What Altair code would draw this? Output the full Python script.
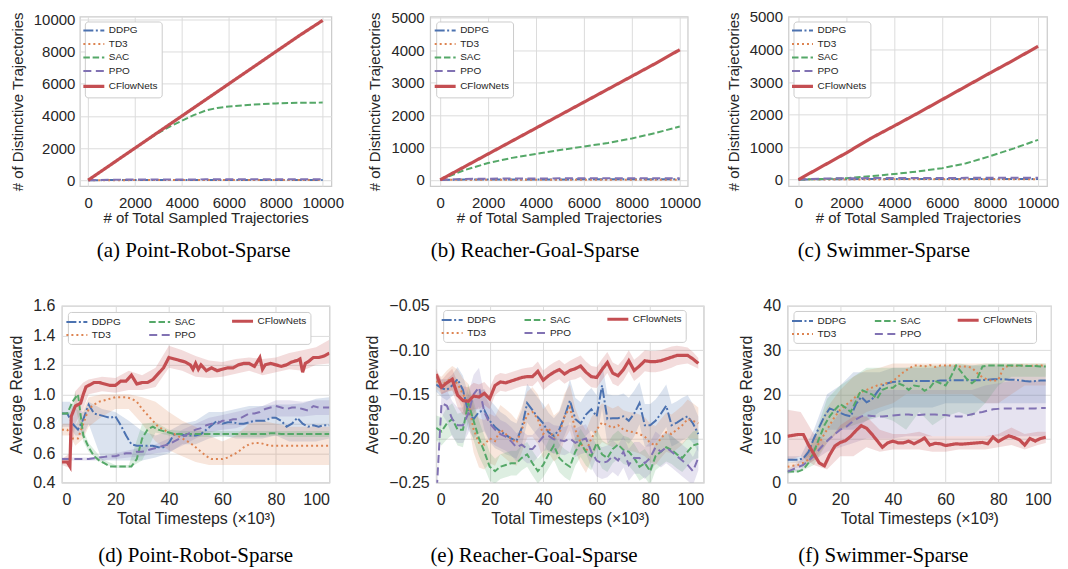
import altair as alt
import pandas as pd

METHODS = ["DDPG", "TD3", "SAC", "PPO", "CFlowNets"]
COLORS = {"DDPG": "#4C72B0", "TD3": "#DD8452", "SAC": "#55A868", "PPO": "#8172B3", "CFlowNets": "#C44E52"}
DASH = {"DDPG": [10, 2.5, 2, 2.5], "TD3": [2, 3], "SAC": [6.5, 2.8], "PPO": [8, 4.5], "CFlowNets": [1, 0]}

# ---------------- top row: distinctive trajectories ----------------
TOP_X = [0, 1000, 2000, 3000, 4000, 5000, 6000, 7000, 8000, 9000, 10000]
A_CF = [0, 1000, 2000, 3000, 4000, 5000, 6000, 7000, 8000, 9000, 9950]
A_DDPG = [0, 5, 8, 10, 10, 12, 12, 14, 14, 15, 15]
A_TD3 = [0, 2, 3, 3, 4, 4, 4, 5, 5, 5, 5]
A_PPO = [0, 30, 40, 45, 48, 50, 52, 53, 55, 55, 56]
A_SAC_X = [0, 1000, 2000, 2500, 3000, 3500, 4000, 4500, 5000, 5500, 6000, 7000, 8000, 9000, 10000]
A_SAC = [0, 1000, 2000, 2500, 2950, 3350, 3700, 4050, 4330, 4500, 4590, 4700, 4780, 4820, 4830]

B_CF = [0, 400, 800, 1200, 1600, 2000, 2400, 2800, 3200, 3600, 4020]
B_SAC = [0, 300, 520, 680, 800, 920, 1030, 1140, 1280, 1450, 1650]
B_DDPG = [0, 8, 10, 12, 14, 15, 16, 17, 18, 19, 20]
B_TD3 = [0, 3, 4, 5, 5, 6, 6, 6, 7, 7, 7]
B_PPO = [0, 30, 38, 42, 45, 47, 49, 50, 51, 52, 53]

C_CF = [0, 410, 820, 1260, 1650, 2050, 2460, 2870, 3280, 3680, 4100]
C_SAC = [0, 15, 40, 100, 170, 250, 350, 500, 720, 960, 1220]
C_DDPG = [0, 10, 12, 14, 15, 16, 17, 18, 19, 20, 20]
C_TD3 = [0, 3, 4, 4, 5, 5, 6, 6, 6, 7, 7]
C_PPO = [0, 32, 40, 44, 46, 48, 50, 51, 52, 53, 54]

# ---------------- (d) Point-Robot-Sparse ----------------
D_X = [0, 2, 4, 6, 8, 10, 12, 14, 16, 18, 20, 22, 24, 26, 28, 30, 32, 34, 36, 38, 40, 42, 44, 46, 48, 50,
       52, 54, 56, 58, 60, 62, 64, 66, 68, 70, 72, 74, 76, 78, 80, 82, 84, 86, 88, 90, 92, 94, 96, 98, 100]
D_DDPG = [0.87, 0.87, 0.80, 0.76, 0.83, 0.93, 0.87, 0.86, 0.85, 0.84, 0.85, 0.79, 0.72, 0.66, 0.65, 0.65, 0.65,
          0.65, 0.64, 0.64, 0.67, 0.73, 0.73, 0.72, 0.72, 0.72, 0.73, 0.76, 0.79, 0.82, 0.80, 0.81, 0.81, 0.80,
          0.80, 0.81, 0.82, 0.82, 0.82, 0.84, 0.84, 0.82, 0.78, 0.80, 0.84, 0.80, 0.78, 0.79, 0.78, 0.79, 0.79]
D_TD3 = [0.76, 0.76, 0.70, 0.70, 0.80, 0.90, 0.93, 0.95, 0.96, 0.97, 0.98, 0.98, 0.98, 0.97, 0.95, 0.90, 0.86,
         0.82, 0.78, 0.76, 0.74, 0.73, 0.71, 0.69, 0.67, 0.64, 0.61, 0.58, 0.56, 0.56, 0.56, 0.57, 0.59, 0.61,
         0.64, 0.66, 0.67, 0.67, 0.66, 0.65, 0.65, 0.65, 0.65, 0.65, 0.65, 0.65, 0.65, 0.65, 0.65, 0.65, 0.65]
D_SAC = [0.87, 0.87, 0.95, 1.00, 0.72, 0.64, 0.58, 0.55, 0.53, 0.51, 0.51, 0.51, 0.51, 0.51, 0.56, 0.70, 0.76,
         0.78, 0.76, 0.75, 0.74, 0.73, 0.73, 0.73, 0.73, 0.73, 0.73, 0.73, 0.73, 0.73, 0.73, 0.73, 0.73, 0.73,
         0.73, 0.73, 0.73, 0.73, 0.73, 0.735, 0.735, 0.73, 0.73, 0.73, 0.73, 0.73, 0.73, 0.73, 0.73, 0.73, 0.73]
D_PPO = [0.56, 0.56, 0.56, 0.56, 0.56, 0.56, 0.565, 0.57, 0.575, 0.58, 0.58, 0.59, 0.60, 0.60, 0.61, 0.61, 0.62,
         0.63, 0.64, 0.65, 0.66, 0.68, 0.70, 0.72, 0.74, 0.76, 0.77, 0.79, 0.80, 0.80, 0.82, 0.82, 0.83, 0.83,
         0.85, 0.87, 0.87, 0.88, 0.90, 0.91, 0.92, 0.91, 0.90, 0.91, 0.91, 0.90, 0.89, 0.92, 0.91, 0.91, 0.91]
D_CF_X = [0, 2, 3, 3.5, 5, 7, 8, 9, 10, 12, 14, 16, 18, 20, 22, 24, 26, 28, 30, 32, 34, 36, 38, 40, 42, 44, 46,
          48, 49, 50, 51, 52, 54, 56, 58, 60, 62, 64, 66, 68, 70, 72, 73, 74, 75, 76, 78, 80, 82, 84, 86, 88,
          89, 90, 91, 92, 94, 96, 98, 100]
D_CF = [0.54, 0.54, 0.51, 0.85, 0.92, 0.94, 1.00, 1.05, 1.06, 1.08, 1.08, 1.07, 1.06, 1.06, 1.09, 1.09, 1.13,
        1.07, 1.08, 1.08, 1.10, 1.14, 1.18, 1.25, 1.24, 1.23, 1.22, 1.20, 1.17, 1.21, 1.17, 1.20, 1.16, 1.18,
        1.16, 1.17, 1.18, 1.18, 1.20, 1.21, 1.21, 1.19, 1.22, 1.25, 1.17, 1.20, 1.21, 1.20, 1.19, 1.20, 1.22,
        1.23, 1.24, 1.15, 1.21, 1.22, 1.25, 1.25, 1.26, 1.28]
D_BX = [0, 3, 5, 8, 10, 15, 20, 25, 30, 35, 40, 45, 50, 55, 60, 65, 70, 75, 80, 85, 90, 95, 100]
D_CF_LO = [0.52, 0.50, 0.80, 0.90, 1.00, 1.02, 1.01, 1.03, 1.03, 1.05, 1.18, 1.16, 1.12, 1.11, 1.12, 1.14, 1.16,
           1.13, 1.15, 1.17, 1.16, 1.20, 1.21]
D_CF_HI = [0.56, 0.60, 1.02, 1.08, 1.10, 1.12, 1.11, 1.16, 1.13, 1.18, 1.33, 1.30, 1.26, 1.23, 1.22, 1.24, 1.25,
           1.24, 1.25, 1.28, 1.30, 1.32, 1.37]
D_DDPG_LO = [0.78, 0.78, 0.72, 0.72, 0.80, 0.55, 0.55, 0.55, 0.55, 0.57, 0.60, 0.66, 0.66, 0.70, 0.72, 0.70, 0.70,
             0.70, 0.72, 0.68, 0.68, 0.68, 0.70]
D_DDPG_HI = [0.95, 0.95, 0.90, 0.88, 0.95, 0.90, 0.88, 0.82, 0.75, 0.72, 0.75, 0.80, 0.82, 0.88, 0.88, 0.90, 0.92,
             0.92, 0.93, 0.93, 0.94, 0.97, 0.98]
D_TD3_LO = [0.72, 0.72, 0.65, 0.70, 0.78, 0.85, 0.90, 0.90, 0.80, 0.68, 0.62, 0.58, 0.54, 0.52, 0.52, 0.52, 0.52,
            0.52, 0.52, 0.52, 0.52, 0.52, 0.52]
D_TD3_HI = [0.80, 0.80, 0.78, 0.90, 0.98, 1.00, 1.00, 1.00, 0.98, 0.95, 0.88, 0.82, 0.78, 0.72, 0.68, 0.72, 0.80,
            0.82, 0.80, 0.78, 0.78, 0.78, 0.78]
D_SAC_LO = [0.86, 0.86, 0.92, 0.68, 0.61, 0.53, 0.50, 0.50, 0.55, 0.74, 0.72, 0.71, 0.71, 0.71, 0.71, 0.71, 0.71,
            0.71, 0.72, 0.71, 0.71, 0.71, 0.71]
D_SAC_HI = [0.88, 0.88, 1.02, 0.76, 0.67, 0.56, 0.52, 0.52, 0.80, 0.81, 0.76, 0.75, 0.75, 0.75, 0.75, 0.75, 0.75,
            0.75, 0.75, 0.75, 0.75, 0.75, 0.75]
D_PPO_LO = [0.55, 0.55, 0.55, 0.55, 0.55, 0.55, 0.56, 0.57, 0.58, 0.60, 0.61, 0.65, 0.70, 0.74, 0.76, 0.77, 0.80,
            0.82, 0.85, 0.85, 0.85, 0.86, 0.86]
D_PPO_HI = [0.57, 0.57, 0.57, 0.57, 0.57, 0.58, 0.60, 0.62, 0.64, 0.66, 0.70, 0.76, 0.80, 0.84, 0.86, 0.88, 0.90,
            0.92, 0.96, 0.96, 0.95, 0.96, 0.96]

# ---------------- (e) Reacher-Goal-Sparse ----------------
E_X = [0, 2, 4, 6, 8, 10, 12, 14, 16, 18, 20, 22, 24, 26, 28, 30, 32, 34, 36, 38, 40, 42, 44, 46, 48, 50,
       52, 54, 56, 58, 60, 62, 64, 66, 68, 70, 72, 74, 76, 78, 80, 82, 84, 86, 88, 90, 92, 94, 96, 98]
E_CF = [-0.127, -0.142, -0.137, -0.133, -0.151, -0.157, -0.158, -0.152, -0.153, -0.149,
        -0.155, -0.140, -0.136, -0.137, -0.135, -0.133, -0.131, -0.130, -0.130, -0.124,
        -0.134, -0.129, -0.125, -0.122, -0.127, -0.123, -0.121, -0.118, -0.125, -0.130,
        -0.131, -0.122, -0.114, -0.126, -0.129, -0.122, -0.112, -0.123, -0.118, -0.112,
        -0.113, -0.113, -0.112, -0.110, -0.108, -0.106, -0.106, -0.106, -0.110, -0.115]
E_DDPG = [-0.139, -0.143, -0.145, -0.140, -0.133, -0.145, -0.170, -0.178, -0.170, -0.168,
          -0.180, -0.187, -0.192, -0.196, -0.200, -0.203, -0.188, -0.160, -0.168, -0.176,
          -0.183, -0.193, -0.197, -0.190, -0.175, -0.157, -0.178, -0.183, -0.173, -0.167,
          -0.175, -0.140, -0.178, -0.177, -0.177, -0.175, -0.180, -0.172, -0.160, -0.185,
          -0.185, -0.180, -0.172, -0.163, -0.185, -0.182, -0.178, -0.175, -0.183, -0.195]
E_TD3 = [-0.135, -0.140, -0.135, -0.132, -0.138, -0.150, -0.160, -0.190, -0.205, -0.207,
         -0.200, -0.203, -0.190, -0.195, -0.200, -0.205, -0.190, -0.173, -0.170, -0.178,
         -0.195, -0.188, -0.200, -0.195, -0.175, -0.165, -0.190, -0.205, -0.215, -0.200,
         -0.190, -0.182, -0.185, -0.188, -0.185, -0.190, -0.192, -0.193, -0.195, -0.198,
         -0.205, -0.208, -0.200, -0.193, -0.195, -0.190, -0.185, -0.178, -0.180, -0.183]
E_SAC = [-0.188, -0.192, -0.183, -0.178, -0.190, -0.190, -0.160, -0.180, -0.200, -0.215,
         -0.232, -0.237, -0.232, -0.230, -0.228, -0.228, -0.222, -0.218, -0.228, -0.237,
         -0.230, -0.218, -0.208, -0.222, -0.228, -0.232, -0.215, -0.205, -0.215, -0.220,
         -0.205, -0.218, -0.222, -0.212, -0.207, -0.213, -0.215, -0.222, -0.232, -0.228,
         -0.237, -0.220, -0.215, -0.210, -0.213, -0.218, -0.222, -0.215, -0.208, -0.206]
E_PPO = [-0.270, -0.160, -0.163, -0.178, -0.185, -0.185, -0.172, -0.150, -0.142, -0.170,
         -0.183, -0.190, -0.195, -0.198, -0.203, -0.210, -0.207, -0.212, -0.212, -0.205,
         -0.198, -0.197, -0.201, -0.202, -0.203, -0.200, -0.205, -0.202, -0.200, -0.215,
         -0.225, -0.228, -0.226, -0.220, -0.225, -0.215, -0.230, -0.222, -0.222, -0.228,
         -0.222, -0.210, -0.215, -0.210, -0.215, -0.220, -0.225, -0.230, -0.237, -0.222]
E_CF_SD = [0.006, 0.008, 0.010, 0.012, 0.014, 0.016, 0.016, 0.015, 0.014, 0.013,
           0.012, 0.011, 0.010, 0.010, 0.010, 0.010, 0.010, 0.010, 0.011, 0.011,
           0.011, 0.011, 0.011, 0.011, 0.011, 0.011, 0.012, 0.012, 0.012, 0.012,
           0.012, 0.012, 0.012, 0.012, 0.012, 0.012, 0.012, 0.012, 0.012, 0.012,
           0.012, 0.012, 0.012, 0.012, 0.012, 0.011, 0.010, 0.009, 0.008, 0.006]
E_DDPG_SD = [0.008, 0.010, 0.012, 0.012, 0.014, 0.016, 0.020, 0.022, 0.024, 0.024,
             0.024, 0.024, 0.022, 0.022, 0.020, 0.020, 0.020, 0.022, 0.022, 0.022,
             0.022, 0.022, 0.020, 0.020, 0.022, 0.024, 0.024, 0.024, 0.024, 0.024,
             0.024, 0.026, 0.028, 0.026, 0.026, 0.026, 0.026, 0.026, 0.024, 0.024,
             0.024, 0.024, 0.024, 0.024, 0.024, 0.024, 0.024, 0.024, 0.022, 0.020]
E_TD3_SD = [0.008, 0.010, 0.012, 0.014, 0.016, 0.018, 0.022, 0.026, 0.028, 0.028,
            0.028, 0.028, 0.028, 0.028, 0.028, 0.026, 0.026, 0.026, 0.028, 0.028,
            0.028, 0.028, 0.026, 0.026, 0.026, 0.026, 0.024, 0.024, 0.024, 0.024,
            0.022, 0.022, 0.022, 0.022, 0.022, 0.022, 0.022, 0.022, 0.022, 0.022,
            0.022, 0.022, 0.022, 0.022, 0.022, 0.022, 0.022, 0.022, 0.020, 0.018]
E_SAC_SD = [0.014, 0.016, 0.018, 0.018, 0.018, 0.020, 0.022, 0.022, 0.020, 0.018,
            0.016, 0.014, 0.014, 0.014, 0.014, 0.014, 0.014, 0.014, 0.014, 0.014,
            0.014, 0.016, 0.016, 0.016, 0.016, 0.016, 0.016, 0.016, 0.016, 0.016,
            0.016, 0.016, 0.016, 0.016, 0.016, 0.016, 0.016, 0.016, 0.016, 0.016,
            0.016, 0.016, 0.016, 0.016, 0.016, 0.016, 0.016, 0.016, 0.016, 0.016]
E_PPO_SD = [0.004, 0.012, 0.018, 0.020, 0.020, 0.020, 0.022, 0.022, 0.022, 0.020,
            0.020, 0.018, 0.016, 0.016, 0.016, 0.016, 0.016, 0.016, 0.016, 0.016,
            0.016, 0.016, 0.016, 0.016, 0.016, 0.016, 0.016, 0.016, 0.016, 0.018,
            0.018, 0.018, 0.018, 0.018, 0.018, 0.018, 0.018, 0.018, 0.018, 0.018,
            0.018, 0.018, 0.018, 0.018, 0.018, 0.018, 0.018, 0.018, 0.016, 0.014]

# ---------------- (f) Swimmer-Sparse ----------------
F_X = E_X
F_CF = [10.5, 10.7, 10.9, 10.9, 8.5, 6.5, 4.5, 3.8, 6.3, 8.3, 9.1, 9.5, 10.5, 11.8, 12.9, 12.3, 11.0, 9.5, 8.0,
        9.0, 9.4, 9.0, 9.0, 9.4, 8.8, 9.4, 10.1, 8.5, 8.9, 8.8, 8.4, 8.6, 8.8, 8.7, 8.8, 8.9, 9.0, 9.1, 8.8,
        10.3, 9.3, 10.0, 10.6, 10.2, 9.7, 8.5, 10.0, 9.4, 10.0, 10.3]
F_DDPG = [5.2, 5.2, 5.2, 5.5, 7.0, 10.0, 12.5, 15.0, 16.8, 16.3, 15.8, 15.3, 15.0, 17.8, 19.4, 18.2, 18.8, 20.5,
          22.0, 22.5, 22.8, 22.9, 23.0, 23.0, 23.0, 23.0, 23.0, 23.0, 23.0, 23.1, 23.1, 23.2, 23.2, 23.2, 23.2,
          23.2, 23.2, 23.2, 23.3, 23.4, 23.4, 23.4, 23.3, 23.3, 23.2, 23.0, 22.9, 23.0, 23.1, 23.1]
F_TD3 = [3.6, 3.8, 4.0, 4.5, 5.2, 7.0, 9.0, 11.0, 13.0, 15.0, 16.5, 17.5, 18.5, 19.5, 20.5, 21.0, 21.5, 22.0,
         22.3, 22.6, 23.0, 24.0, 25.0, 25.8, 26.5, 26.5, 26.3, 26.6, 26.2, 26.5, 26.5, 26.5, 26.3, 26.3, 26.3,
         26.0, 24.8, 23.8, 23.3, 23.0, 23.3, 26.0, 26.5, 26.4, 26.5, 26.5, 26.4, 26.5, 26.5, 26.6]
F_SAC = [2.5, 2.5, 2.5, 3.0, 4.5, 7.0, 10.0, 13.0, 15.0, 16.5, 17.8, 17.0, 16.0, 18.5, 21.0, 20.5, 20.0, 19.0,
         21.0, 21.5, 21.5, 22.5, 22.0, 21.0, 22.0, 21.8, 20.8, 21.5, 23.0, 22.5, 22.0, 24.0, 26.5, 25.0, 23.5,
         22.5, 23.5, 26.3, 26.5, 26.5, 26.5, 26.5, 26.5, 26.5, 26.5, 26.4, 26.4, 26.4, 26.3, 26.3]
F_PPO = [2.5, 3.0, 3.5, 4.0, 5.0, 6.0, 7.5, 8.8, 10.0, 11.0, 12.0, 12.5, 13.5, 14.3, 15.0, 15.2, 15.1, 15.0,
         15.0, 15.1, 15.2, 15.3, 15.4, 15.4, 15.3, 15.3, 15.4, 15.4, 15.4, 15.3, 15.3, 15.1, 15.0, 15.0, 15.2,
         15.5, 15.8, 16.0, 16.3, 16.6, 16.7, 16.8, 16.8, 16.8, 16.8, 16.8, 16.8, 16.8, 16.9, 16.9]
F_BX = [0, 5, 10, 15, 20, 25, 30, 35, 40, 45, 50, 55, 60, 65, 70, 75, 80, 85, 90, 95, 98]
F_CF_LO = [5.0, 6.0, 4.0, 3.0, 6.0, 6.0, 8.0, 7.0, 7.5, 7.5, 7.5, 7.0, 7.0, 7.5, 7.5, 7.5, 8.0, 8.5, 7.5, 8.5, 9.0]
F_CF_HI = [16.5, 16.0, 11.0, 9.0, 13.0, 15.0, 15.0, 12.0, 11.0, 11.0, 11.5, 10.5, 10.5, 10.5, 10.5, 10.5, 11.0,
           12.5, 11.0, 11.5, 11.5]
F_DDPG_LO = [4.5, 4.5, 7.0, 12.0, 12.0, 12.0, 14.0, 16.0, 17.0, 17.0, 17.0, 17.0, 18.0, 18.0, 18.0, 18.0, 18.0,
             18.0, 18.0, 18.0, 18.0]
F_DDPG_HI = [6.0, 6.0, 12.0, 20.0, 22.0, 25.0, 25.0, 25.0, 26.0, 26.0, 26.0, 26.0, 26.5, 26.5, 26.5, 26.5, 26.5,
             26.5, 26.5, 26.5, 26.5]
F_TD3_LO = [3.0, 3.5, 5.0, 9.0, 12.0, 14.0, 16.0, 17.0, 18.0, 20.0, 20.0, 20.0, 20.0, 20.0, 20.0, 18.0, 18.0,
            20.0, 22.0, 22.0, 22.0]
F_TD3_HI = [4.5, 5.0, 10.0, 17.0, 21.0, 24.0, 25.5, 26.0, 27.0, 27.0, 27.0, 27.0, 27.0, 27.0, 27.0, 27.0, 27.0,
            27.0, 27.0, 27.0, 27.0]
F_SAC_LO = [2.0, 2.5, 4.0, 9.0, 12.0, 13.0, 14.0, 15.0, 14.0, 12.0, 16.0, 13.0, 15.0, 16.0, 15.0, 18.0, 22.0,
            24.0, 24.0, 24.0, 24.0]
F_SAC_HI = [3.0, 3.0, 10.0, 19.0, 22.0, 24.0, 26.0, 26.0, 26.0, 26.0, 26.5, 26.5, 26.5, 27.0, 26.5, 27.0, 27.0,
            27.0, 27.0, 27.0, 27.0]
F_PPO_LO = [2.0, 3.0, 5.0, 7.0, 8.0, 9.0, 10.0, 10.0, 10.0, 10.5, 10.5, 10.5, 10.5, 10.5, 10.5, 10.5, 10.5,
            10.5, 10.5, 10.5, 10.5]
F_PPO_HI = [3.0, 5.0, 8.0, 12.0, 16.0, 19.0, 21.0, 21.0, 21.0, 21.0, 21.0, 21.0, 21.0, 21.0, 21.0, 22.0, 22.5,
            23.0, 23.0, 23.0, 23.0]

TOP_ORDER = ["DDPG", "TD3", "SAC", "PPO", "CFlowNets"]
BOT_ORDER = ["DDPG", "SAC", "CFlowNets", "TD3", "PPO"]
BAND_ORDER = ["CFlowNets", "PPO", "SAC", "TD3", "DDPG"]
SANS = "Liberation Sans"
SERIF = "Liberation Serif"
THIN, THICK = 2.0, 3.2


def lines_df(series):
    rows = []
    for m, xs, ys in series:
        for x, y in zip(xs, ys):
            rows.append({"method": m, "x": x, "y": y})
    return pd.DataFrame(rows)


def bands_df(series):
    rows = []
    for m, xs, lo, hi in series:
        for x, a, b in zip(xs, lo, hi):
            rows.append({"band": m, "x": x, "lo": a, "hi": b})
    return pd.DataFrame(rows)


def panel(lines, bands, xdom, ydom, xticks, yticks, yfmt, xtitle, ytitle, fs, w, h, order, cols,
          legxy, caption, cap_dx, cap_off, ylp, ytp, xlp, xtp):
    ax_x = alt.Axis(values=xticks, title=xtitle, format="d", labelFontSize=fs, titleFontSize=fs,
                    labelPadding=xlp, titlePadding=xtp)
    ax_y = alt.Axis(values=yticks, title=ytitle, format=yfmt, labelFontSize=fs, titleFontSize=fs,
                    labelPadding=ylp, titlePadding=ytp)
    xs = alt.Scale(domain=xdom, nice=False, zero=False)
    ys = alt.Scale(domain=ydom, nice=False, zero=False)
    cscale = alt.Scale(domain=order, range=[COLORS[m] for m in order])
    dscale = alt.Scale(domain=order, range=[DASH[m] for m in order])
    fscale = alt.Scale(domain=BAND_ORDER, range=[COLORS[m] for m in BAND_ORDER])
    if cols == 1:
        extra = dict(direction="vertical", rowPadding=3.5, columnPadding=18)
    else:
        extra = dict(direction="horizontal", rowPadding=2, columnPadding=2, gridAlign="all")
    leg = alt.Legend(orient="none", legendX=legxy[0], legendY=legxy[1], columns=cols,
                     title=None, labelFont=SANS, labelFontSize=10, labelColor="#262626", symbolSize=441,
                     symbolType="stroke", labelOffset=10, padding=4,
                     strokeColor="#cccccc", fillColor="#ffffff", cornerRadius=3,
                     symbolStrokeWidth={"expr": "datum.value === 'CFlowNets' ? %s : %s" % (THICK, THIN)},
                     **extra)
    line = alt.Chart(lines).mark_line(clip=True).encode(
        x=alt.X("x:Q", scale=xs, axis=ax_x),
        y=alt.Y("y:Q", scale=ys, axis=ax_y),
        stroke=alt.Stroke("method:N", scale=cscale, legend=leg),
        strokeDash=alt.StrokeDash("method:N", scale=dscale, legend=leg),
        strokeWidth=alt.condition(alt.datum.method == "CFlowNets", alt.value(THICK), alt.value(THIN)),
    )
    layers = []
    if bands is not None:
        area = alt.Chart(bands).mark_area(clip=True, opacity=0.2).encode(
            x=alt.X("x:Q", scale=xs, axis=ax_x),
            y=alt.Y("lo:Q", scale=ys, axis=ax_y),
            y2="hi:Q",
            fill=alt.Fill("band:N", scale=fscale, legend=None),
        )
        layers.append(area)
    layers.append(line)
    return alt.layer(*layers).properties(
        width=w, height=h,
        title=alt.TitleParams(text=caption, orient="bottom", anchor="middle", frame="group", dx=cap_dx,
                              offset=cap_off, font=SERIF, fontSize=21, fontWeight="normal", color="#000000"),
    )


def spacer(w, h):
    return alt.Chart(pd.DataFrame({"v": [0]})).mark_point(opacity=0).encode(
        x=alt.X("v:Q", axis=None), y=alt.Y("v:Q", axis=None)
    ).properties(width=w, height=h, view=alt.ViewBackground(stroke="transparent"))


XT = "# of Total Sampled Trajectories"
YT = "# of Distinctive Trajectories"
XB = "Total Timesteps (×10³)"
YB = "Average Reward"

pa = panel(lines_df([("DDPG", TOP_X, A_DDPG), ("TD3", TOP_X, A_TD3), ("SAC", A_SAC_X, A_SAC),
                     ("PPO", TOP_X, A_PPO), ("CFlowNets", TOP_X, A_CF)]), None,
           [-353, 10370], [-375, 10190], [0, 2000, 4000, 6000, 8000, 10000], [0, 2000, 4000, 6000, 8000, 10000],
           "d", XT, YT, 15, 252, 170, TOP_ORDER, 1, (5, 5), "(a) Point-Robot-Sparse", -12, 15, 5, 8, 9, 0)
pb = panel(lines_df([("DDPG", TOP_X, B_DDPG), ("TD3", TOP_X, B_TD3), ("SAC", TOP_X, B_SAC),
                     ("PPO", TOP_X, B_PPO), ("CFlowNets", TOP_X, B_CF)]), None,
           [-417, 10333], [-195, 5045], [0, 2000, 4000, 6000, 8000, 10000], [0, 1000, 2000, 3000, 4000, 5000],
           "d", XT, YT, 15, 258, 170, TOP_ORDER, 1, (6, 5), "(b) Reacher-Goal-Sparse", -24, 15, 6, 8, 9, 0)
pc = panel(lines_df([("DDPG", TOP_X, C_DDPG), ("TD3", TOP_X, C_TD3), ("SAC", TOP_X, C_SAC),
                     ("PPO", TOP_X, C_PPO), ("CFlowNets", TOP_X, C_CF)]), None,
           [-417, 10375], [-205, 5015], [0, 2000, 4000, 6000, 8000, 10000], [0, 1000, 2000, 3000, 4000, 5000],
           "d", XT, YT, 15, 259, 170, TOP_ORDER, 1, (5, 5), "(c) Swimmer-Sparse", -34, 15, 6, 8, 9, 0)

pd_ = panel(lines_df([("DDPG", D_X, D_DDPG), ("TD3", D_X, D_TD3), ("SAC", D_X, D_SAC),
                      ("PPO", D_X, D_PPO), ("CFlowNets", D_CF_X, D_CF)]),
            bands_df([("DDPG", D_BX, D_DDPG_LO, D_DDPG_HI), ("TD3", D_BX, D_TD3_LO, D_TD3_HI),
                      ("SAC", D_BX, D_SAC_LO, D_SAC_HI), ("PPO", D_BX, D_PPO_LO, D_PPO_HI),
                      ("CFlowNets", D_BX, D_CF_LO, D_CF_HI)]),
            [0, 100], [0.4, 1.6], [0, 20, 40, 60, 80, 100], [0.4, 0.6, 0.8, 1.0, 1.2, 1.4, 1.6],
            ".1f", XB, YB, 16, 268, 177, BOT_ORDER, 3, (6, 6), "(d) Point-Robot-Sparse", 0, 19, 7, 8, 9, 3)


def sd_band(m, xs, mean, sd):
    return (m, xs, [a - b for a, b in zip(mean, sd)], [a + b for a, b in zip(mean, sd)])


pe = panel(lines_df([("DDPG", E_X, E_DDPG), ("TD3", E_X, E_TD3), ("SAC", E_X, E_SAC),
                     ("PPO", E_X, E_PPO), ("CFlowNets", E_X, E_CF)]),
           bands_df([sd_band("DDPG", E_X, E_DDPG, E_DDPG_SD), sd_band("TD3", E_X, E_TD3, E_TD3_SD),
                     sd_band("SAC", E_X, E_SAC, E_SAC_SD), sd_band("PPO", E_X, E_PPO, E_PPO_SD),
                     sd_band("CFlowNets", E_X, E_CF, E_CF_SD)]),
           [0, 100], [-0.25, -0.05], [0, 20, 40, 60, 80, 100], [-0.25, -0.20, -0.15, -0.10, -0.05],
           ".2f", XB, YB, 16, 268, 177, BOT_ORDER, 3, (7, 4), "(e) Reacher-Goal-Sparse", -36, 19, 7, 8, 9, 3)
pf = panel(lines_df([("DDPG", F_X, F_DDPG), ("TD3", F_X, F_TD3), ("SAC", F_X, F_SAC),
                     ("PPO", F_X, F_PPO), ("CFlowNets", F_X, F_CF)]),
           bands_df([("DDPG", F_BX, F_DDPG_LO, F_DDPG_HI), ("TD3", F_BX, F_TD3_LO, F_TD3_HI),
                     ("SAC", F_BX, F_SAC_LO, F_SAC_HI), ("PPO", F_BX, F_PPO_LO, F_PPO_HI),
                     ("CFlowNets", F_BX, F_CF_LO, F_CF_HI)]),
           [0, 100], [0, 40], [0, 20, 40, 60, 80, 100], [0, 10, 20, 30, 40],
           "d", XB, YB, 16, 264, 177, BOT_ORDER, 3, (6, 5), "(f) Swimmer-Sparse", -36, 19, 7, 8, 9, 3)

IND = dict(stroke="independent", strokeDash="independent", fill="independent")

top = alt.hconcat(spacer(18, 170), pa, spacer(99, 170), pb, spacer(101, 170), pc, spacing=0,
                  bounds="flush").resolve_scale(**IND).resolve_legend(**IND)
bottom = alt.hconcat(pd_, spacer(107, 177), pe, spacer(84, 177), pf, spacing=0,
                     bounds="flush").resolve_scale(**IND).resolve_legend(**IND)

chart = alt.vconcat(top, bottom, spacing=35).resolve_scale(**IND).resolve_legend(**IND).properties(
    padding=0, background="#ffffff"
).configure(font=SANS).configure_view(
    stroke="#cccccc", strokeWidth=1.25
).configure_axis(
    grid=True, gridColor="#dcdcdc", gridWidth=1, domain=False, ticks=False,
    labelColor="#262626", titleColor="#262626", labelFont=SANS, titleFont=SANS, titleFontWeight="normal"
)

chart.save("out.html", embed_options={"renderer": "svg", "actions": False})
